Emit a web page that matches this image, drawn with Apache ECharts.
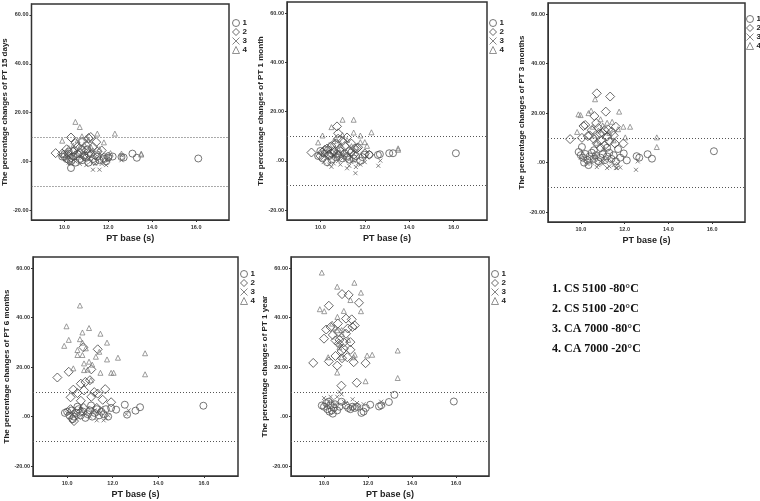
<!DOCTYPE html>
<html><head><meta charset="utf-8">
<script src="https://cdn.jsdelivr.net/npm/echarts@6/dist/echarts.min.js"></script>
<style>html,body{margin:0;padding:0;background:#fff}#c{width:760px;height:501px}</style>
</head><body><div id="c"></div>
<script>
// ---------- data ----------
const seriesNames = ['1', '2', '3', '4'];
const yTitles = [
  'The percentage changes of PT 15 days',
  'The percentage changes of PT 1 month',
  'The percentage changes of PT 3 months',
  'The percentage changes of PT 6 months',
  'The percentage changes of PT 1 year'
];
const xTitle = 'PT base (s)';
const xTicks = [10, 12, 14, 16];
const yTicks = [-20, 0, 20, 40, 60];
const refLines = [10, -10];
const keyLines = ['1. CS 5100 -80°C', '2. CS 5100 -20°C', '3. CA 7000 -80°C', '4. CA 7000 -20°C'];

// 15 days
const d15_1 = [[10.3,-2.7],[16.1,1.2],[13.1,3.2],[13.3,1.5],[12.6,1.8],[12.7,1.6],[9.9,2],[10.0,3],[10.1,1],[10.2,4],[10.3,0],[10.4,2],[10.5,-0.5],[10.6,3],[10.7,1],[10.8,0.5],[10.9,2.5],[11.0,1.5],[11.1,-0.5],[11.2,3],[11.3,1],[11.4,0],[11.5,2],[11.6,0.5],[11.8,1],[11.9,0],[12.0,1.5],[12.2,2],[10.45,4.5],[11.05,5]];
const d15_2 = [[9.6,3.4],[10.3,9.8],[11.2,10.0],[11.1,9.6],[11.45,7.9],[9.9,3.2],[10.0,2],[10.1,5],[10.2,3],[10.3,1.5],[10.4,4],[10.5,2.5],[10.6,6],[10.7,3.5],[10.8,5],[10.9,2],[11.0,4.5],[11.1,3],[11.3,6],[11.4,2.5],[11.5,4],[11.7,4.5],[11.8,1.5],[10.5,7.5],[10.8,8],[11.0,6.5],[10.2,0.5],[12.0,2]];
const d15_3 = [[11.3,-3.4],[11.6,-3.4],[10.1,1],[10.3,-1],[10.5,0],[10.7,-1],[10.9,0.5],[11.0,-1.5],[11.2,0],[11.4,-1],[11.5,0.5],[11.7,-1],[11.9,-1.5],[12.0,0.5],[12.6,0.5],[12.6,2.5],[10.4,2],[10.8,1.5],[11.1,1],[10.2,-0.5]];
const d15_4 = [[10.5,16.2],[10.7,14.1],[10.8,10.3],[11.5,11.4],[12.3,11.4],[9.9,8.5],[11.8,7.8],[10.6,8.6],[11.0,9.7],[12.1,3.4],[12.6,3.2],[13.5,3.2],[13.5,2.8],[10.2,5.5],[10.4,6.5],[10.9,7],[11.2,6],[11.3,4.5],[10.1,4.2],[11.6,5],[10.7,5.8],[11.9,2.5],[10.8,3.8],[11.1,8.8]];
// 1 month
const m1_1 = [[13.1,3.1],[13.27,3.1],[12.59,2.4],[12.68,2.7],[16.1,3.1],[9.9,2],[10.0,4],[10.1,1],[10.2,3],[10.3,-0.5],[10.4,2],[10.5,0.5],[10.6,3.5],[10.7,1.5],[10.8,2.5],[10.9,4],[11.0,1],[11.1,3],[11.2,2],[11.3,0.5],[11.4,3.5],[11.5,1],[11.6,2],[11.8,0],[11.9,1.5],[12.0,2.5],[12.2,2.5],[10.35,4.5],[10.75,3]];
const m1_2 = [[9.6,3.4],[10.75,14.0],[10.8,11.2],[11.55,5.1],[11.65,5.1],[10.0,2],[10.1,3.5],[10.2,4.5],[10.3,5],[10.4,2.5],[10.5,6],[10.6,4],[10.7,7],[10.8,9],[10.9,5],[11.0,8],[11.1,6],[11.2,9.5],[11.3,4],[11.4,7],[11.5,2.5],[11.7,5.5],[10.5,3],[10.8,2],[11.2,1.5],[12.0,3],[12.2,2.5]];
const m1_3 = [[11.58,-5.0],[12.61,-2.0],[12.7,0.1],[11.2,-3.0],[11.6,-2.5],[11.8,-1.5],[10.5,-2.4],[10.15,-0.5],[10.3,1],[10.6,-1],[10.8,0],[10.9,-1.5],[11.0,1],[11.3,-2],[11.4,-0.5],[11.5,0],[11.7,-1],[12.0,-0.5],[10.4,-1.5],[11.1,0.5],[10.7,2]];
const m1_4 = [[11.0,16.7],[11.5,16.7],[10.5,13.7],[11.5,11.5],[12.3,11.6],[10.1,10.3],[11.8,10.3],[9.9,7.5],[11.8,7.6],[12.0,7.6],[12.1,6.1],[13.5,5.1],[13.5,4.5],[10.7,9],[11.0,10.5],[10.4,6.5],[10.6,8],[10.9,7],[11.2,8.5],[11.4,6],[10.8,5],[11.6,5.5],[10.3,4],[11.1,3.5]];
// 3 months
const m3_1 = [[16.08,4.6],[13.05,3.4],[13.25,1.6],[12.55,2.6],[12.67,2.0],[12.1,0.9],[11.96,3.7],[10.05,6.3],[9.9,4.3],[10.0,3],[10.1,2],[10.2,3.5],[10.3,1],[10.4,2.5],[10.5,4],[10.6,1.5],[10.7,3],[10.8,0.5],[10.9,2],[11.0,3.5],[11.1,1],[11.2,2.5],[11.3,4],[11.4,1.5],[11.5,3],[11.6,0.5],[11.8,2],[10.15,0],[10.35,-1],[10.6,5],[11.2,6],[11.7,5.5]];
const m3_2 = [[10.73,28.0],[11.34,26.7],[11.14,20.6],[10.62,18.8],[9.51,9.5],[10.05,10.0],[10.12,14.8],[10.2,15.2],[10.5,13.1],[10.88,11.8],[11.08,13.1],[11.25,13.3],[11.56,7.7],[11.94,7.7],[10.73,7.7],[10.32,10.7],[10.6,9.5],[10.8,14],[11.0,12],[11.2,10.5],[11.4,12.5],[10.9,9],[11.6,14.5],[11.3,8.5],[10.4,11],[10.7,16],[11.1,7],[10.9,6],[11.5,11]];
const m3_3 = [[12.52,-2.9],[10.73,-1.8],[11.2,-2.2],[11.6,-2.2],[11.65,-2.2],[10.0,2],[10.2,1],[10.3,-0.5],[10.4,2],[10.5,0],[10.6,1.5],[10.8,-1],[10.9,0.5],[11.0,-0.5],[11.1,1],[11.3,-1.5],[11.4,0.5],[11.5,-1],[11.7,-0.5],[11.8,-2],[12.6,0.5],[10.7,3]];
const m3_4 = [[10.65,25.6],[10.47,21.0],[9.89,19.5],[9.99,19.2],[11.75,20.6],[10.35,20],[9.83,12.4],[11.2,16.1],[11.43,16.5],[11.94,14.5],[12.25,14.5],[12.03,10.2],[13.47,10.2],[13.47,6.3],[11.05,5.7],[10.55,14.5],[10.8,13],[11.0,15],[10.6,11],[11.3,12],[10.9,17.5],[11.5,9],[11.7,13.5],[10.7,8]];
// 6 months
const m6_1 = [[12.53,4.8],[12.63,0.8],[13.0,2.4],[13.2,3.8],[15.98,4.4],[11.93,3.5],[12.15,2.8],[9.9,1.5],[10.0,2],[10.1,0.5],[10.2,2.5],[10.3,0],[10.4,1.5],[10.5,3],[10.6,0.5],[10.7,2],[10.8,-0.5],[10.9,1],[11.0,2.5],[11.1,0],[11.2,1.5],[11.3,3],[11.4,0.5],[11.5,2],[11.6,1],[11.8,0],[10.25,-1],[10.45,4],[11.05,4.5],[11.7,3]];
const m6_2 = [[9.57,15.8],[10.07,18.1],[11.34,27.2],[11.06,19.1],[11.67,11.1],[10.71,28.0],[10.6,13.3],[10.74,10.6],[10.27,10.9],[11.19,9.9],[11.34,9.3],[11.56,6.8],[11.93,5.8],[10.6,6.4],[10.15,7.8],[10.8,14],[11.0,14.7],[10.73,3.5],[10.22,-0.9],[10.3,-1.8],[10.45,9.5],[11.06,8],[10.15,3],[10.6,2],[11.3,3.5]];
const m6_3 = [[10.0,1.5],[10.2,2],[10.4,1],[10.6,3],[10.8,1],[11.0,0],[11.2,2.5],[11.3,-1.5],[11.4,1],[11.5,3.5],[11.6,-1.5],[11.7,-0.5],[11.8,0.5],[10.9,3.5],[10.5,-0.5],[11.1,2],[12.6,1],[12.7,2.5],[10.3,3]];
const m6_4 = [[9.87,28.6],[9.97,36.5],[10.07,31.0],[10.27,19.5],[10.45,26.9],[10.45,24.9],[10.56,44.9],[10.56,31.3],[10.67,34.0],[10.67,29.9],[10.67,24.9],[10.74,21.5],[10.74,18.8],[10.82,27.6],[10.96,35.8],[10.96,22.2],[11.04,14.7],[11.26,24.2],[11.41,26.2],[11.46,33.5],[11.46,17.7],[11.75,29.9],[11.75,23.1],[11.93,17.7],[12.04,17.7],[12.23,23.8],[13.42,25.6],[13.42,17.1],[10.9,19],[11.1,21]];
// 1 year
const y1_1 = [[15.9,6.1],[13.2,8.8],[12.95,5.9],[12.5,4.1],[12.6,4.6],[12.1,4.8],[11.8,2],[11.7,1.5],[11.9,3.5],[10.0,4],[10.1,5.5],[10.15,3],[10.2,6],[10.3,4.5],[10.35,2.5],[10.4,1.2],[10.5,5],[10.6,2.5],[10.7,4],[10.8,6],[11.0,4.5],[11.1,3.5],[11.2,3],[11.3,4],[11.4,3.5],[11.5,4],[9.9,4.5],[10.45,3.5],[10.25,2]];
const y1_2 = [[9.51,21.7],[10.22,44.8],[10.82,49.5],[11.12,49.2],[11.59,46.0],[10.0,31.5],[10.1,35.2],[10.3,36.2],[10.63,37.6],[11.0,39.6],[11.26,39.3],[11.29,36.2],[11.08,35.6],[10.52,30.8],[10.67,29.5],[11.2,30.1],[10.9,27.4],[10.52,24.5],[10.22,22.3],[10.6,20.6],[10.82,23.6],[11.35,22.0],[11.89,21.6],[10.79,12.5],[11.49,13.7],[11.06,24.0],[10.64,34.2],[10.4,33],[10.7,31],[11.0,33.5],[11.2,27],[10.8,26.5],[11.4,36.8],[10.9,30]];
const y1_3 = [[10.0,7.5],[10.1,4],[10.3,8],[10.4,6.5],[10.6,8],[10.7,10],[10.8,9],[10.5,5],[10.9,6],[11.2,3.5],[11.3,7],[11.4,4.5],[11.5,5.5],[11.6,4],[11.8,5],[12.6,6],[12.7,5],[11.0,5.5],[10.2,6]];
const y1_4 = [[9.9,58.2],[10.6,52.5],[11.38,54.1],[11.68,50.1],[11.2,47.1],[9.81,43.4],[10.01,42.6],[11.68,42.6],[10.9,42.7],[10.61,40.3],[10.37,37.6],[10.6,34.9],[10.8,35],[10.82,33.3],[10.67,29.5],[10.7,28],[11.96,24.7],[12.19,25.0],[13.35,26.7],[10.19,24.0],[10.8,24],[11.35,24.0],[10.6,17.8],[11.89,14.3],[13.35,15.6],[11.1,31],[11.4,25],[10.5,36]];

const panelData = [
  [d15_1, d15_2, d15_3, d15_4],
  [m1_1, m1_2, m1_3, m1_4],
  [m3_1, m3_2, m3_3, m3_4],
  [m6_1, m6_2, m6_3, m6_4],
  [y1_1, y1_2, y1_3, y1_4]
];

// ---------- layout / style ----------
const grids = [
  {left: 31, top: 4, width: 198, height: 216},
  {left: 287, top: 2, width: 200, height: 218},
  {left: 548, top: 3, width: 197, height: 219},
  {left: 33, top: 257, width: 205, height: 219},
  {left: 291, top: 257, width: 198, height: 219}
];
const legendPos = [
  {left: 232, top: 19},
  {left: 489, top: 19},
  {left: 746, top: 15},
  {left: 240, top: 270},
  {left: 491, top: 270}
];
const FONT = '"Liberation Sans", Arial, sans-serif';
const crossPath = 'path://M0,0L10,10M10,0L0,10';
const markerStyles = [
  {symbol: 'circle', symbolSize: 7, itemStyle: {color: 'rgba(255,255,255,0)', borderColor: '#555', borderWidth: 1}},
  {symbol: 'diamond', symbolSize: 9, itemStyle: {color: 'rgba(255,255,255,0)', borderColor: '#444', borderWidth: 1}},
  {symbol: crossPath, symbolSize: 4, itemStyle: {color: 'rgba(255,255,255,0)', borderColor: '#666', borderWidth: 1}},
  {symbol: 'triangle', symbolSize: 5, itemStyle: {color: 'rgba(255,255,255,0)', borderColor: '#777', borderWidth: 0.9}}
];
const legendIcons = ['circle', 'diamond', crossPath, 'triangle'];

const option = {
  animation: false,
  backgroundColor: '#fff',
  grid: grids.map(g => Object.assign({show: true, borderColor: '#333', borderWidth: 1.5, backgroundColor: 'transparent'}, g)),
  xAxis: grids.map((g, i) => ({
    type: 'value', gridIndex: i, min: 8.5, max: 17.5,
    name: xTitle, nameLocation: 'middle', nameGap: 14,
    nameTextStyle: {fontFamily: FONT, fontSize: 9, fontWeight: 'bold', color: '#222'},
    axisLine: {show: true, onZero: false, lineStyle: {color: '#333'}},
    axisTick: {show: true, length: 2, customValues: xTicks, lineStyle: {color: '#333'}},
    axisLabel: {customValues: xTicks, fontFamily: FONT, fontSize: 5.5, fontWeight: 'bold', color: '#333', margin: 4,
      formatter: v => v.toFixed(1)},
    splitLine: {show: false}
  })),
  yAxis: grids.map((g, i) => ({
    type: 'value', gridIndex: i, min: -24, max: 64.5,
    name: yTitles[i], nameLocation: 'middle', nameGap: 19,
    nameTextStyle: {fontFamily: FONT, fontSize: 8, fontWeight: 'bold', color: '#222'},
    axisLine: {show: true, onZero: false, lineStyle: {color: '#333'}},
    axisTick: {show: true, length: 2, customValues: yTicks, lineStyle: {color: '#333'}},
    axisLabel: {customValues: yTicks, fontFamily: FONT, fontSize: 5.5, fontWeight: 'bold', color: '#333', margin: 3,
      formatter: v => (v === 0 ? '.00' : v.toFixed(2))},
    splitLine: {show: false}
  })),
  legend: legendPos.map(p => ({
    orient: 'vertical', left: p.left, top: p.top, padding: 0, itemGap: 1,
    itemWidth: 7, itemHeight: 7, selectedMode: false,
    textStyle: {fontFamily: FONT, fontSize: 8, fontWeight: 'bold', color: '#222', padding: [0, 0, 0, -2]},
    data: seriesNames.map((n, k) => ({
      name: n, icon: legendIcons[k],
      itemStyle: {color: 'rgba(255,255,255,0)', borderColor: markerStyles[k].itemStyle.borderColor, borderWidth: 1}
    }))
  })),
  series: [],
  graphic: keyLines.map((t, k) => ({
    type: 'text', left: 552, top: 283 + k * 20,
    style: {text: t, font: 'bold 12px "Liberation Serif", "Times New Roman", serif', fill: '#111'}
  }))
};

panelData.forEach((sets, i) => {
  sets.forEach((pts, k) => {
    const s = {
      type: 'scatter', name: seriesNames[k], xAxisIndex: i, yAxisIndex: i,
      data: pts, symbol: markerStyles[k].symbol, symbolSize: markerStyles[k].symbolSize,
      itemStyle: markerStyles[k].itemStyle, silent: true, z: 2 + k
    };
    if (k === 0) {
      s.markLine = {
        silent: true, symbol: 'none', label: {show: false},
        lineStyle: {type: [1, 2], color: '#555', width: 1},
        data: refLines.map(v => ({yAxis: v}))
      };
    }
    option.series.push(s);
  });
});

const chart = echarts.init(document.getElementById('c'), null, {renderer: 'canvas'});
chart.setOption(option);
</script>
</body></html>
